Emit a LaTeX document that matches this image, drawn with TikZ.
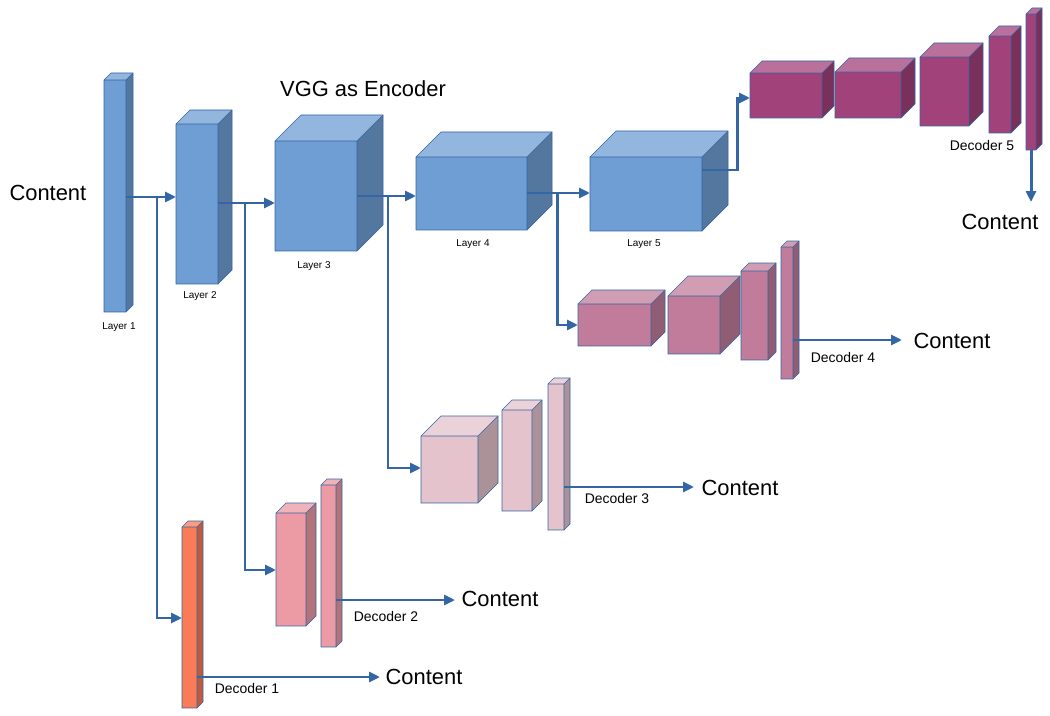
\documentclass[tikz,border=0pt]{standalone}
\usepackage{fontspec}
\setmainfont{Liberation Sans}
\usetikzlibrary{arrows.meta}
\definecolor{enc}{HTML}{6E9ED3}
\definecolor{dfive}{HTML}{A2427A}
\definecolor{dfour}{HTML}{C07C9A}
\definecolor{dthree}{HTML}{E4C3CC}
\definecolor{dtwo}{HTML}{EC9AA3}
\definecolor{done}{HTML}{F97B57}
\definecolor{arr}{HTML}{3465A4}
\newcommand{\mycube}[7]{%
 \coordinate (#1) at (#2,#3);
 \fill[#7!75!white] (#2,#3) -- ++(#6,-#6) -- ++(#4,0) -- ++(-#6,#6) -- cycle;
 \fill[#7!75!black] (#2+#4,#3) -- ++(#6,-#6) -- ++(0,#5) -- ++(-#6,#6) -- cycle;
 \fill[#7] (#2,#3) rectangle ++(#4,#5);
 \draw[edge] (#2,#3) -- ++(#6,-#6) -- ++(#4,0) -- ++(0,#5) -- ++(-#6,#6) -- ++(-#4,0) -- cycle;
 \draw[edge] (#2,#3) -- ++(#4,0) -- ++(#6,-#6) (#2+#4,#3) -- ++(0,#5);
}
\tikzset{edge/.style={draw=arr,line width=0.6pt},
 ar/.style={draw=arr,line width=3pt,-{Triangle[length=11pt,width=10pt]}},
 ln/.style={draw=arr,line width=3pt},
 big/.style={font=\fontsize{22}{24}\selectfont},
 lay/.style={font=\fontsize{10}{12}\selectfont},
 dec/.style={font=\fontsize{14}{16}\selectfont}}
\begin{document}
\begin{tikzpicture}[x=1bp,y=-1bp]
\useasboundingbox (0,0) rectangle (1050,716);
% encoder
\mycube{L1}{104}{80}{22}{232}{7}{enc}
\mycube{L2}{176}{124}{42}{160}{14}{enc}
\mycube{L3}{275}{141}{82}{110}{26}{enc}
\mycube{L4}{416}{157}{111}{73}{25}{enc}
\mycube{L5}{590}{157}{112}{74}{26}{enc}
% decoder 5
\mycube{A1}{750}{73}{72}{45}{12}{dfive}
\mycube{A2}{835}{72}{66}{46}{14}{dfive}
\mycube{A3}{920}{57}{49}{69}{14}{dfive}
\mycube{A4}{989}{36}{22}{97}{10}{dfive}
\mycube{A5}{1026}{14}{10}{136}{6}{dfive}
% decoder 4
\mycube{B1}{578}{304}{73}{42}{14}{dfour}
\mycube{B2}{668}{296}{52}{58}{20}{dfour}
\mycube{B3}{741}{271}{27}{89}{8}{dfour}
\mycube{B4}{781}{247}{12}{132}{6}{dfour}
% decoder 3
\mycube{C1}{421}{436}{57}{67}{20}{dthree}
\mycube{C2}{502}{410}{30}{101}{10}{dthree}
\mycube{C3}{548}{384}{16}{146}{6}{dthree}
% decoder 2
\mycube{D1}{276}{513}{30}{113}{10}{dtwo}
\mycube{D2}{321}{485}{15}{162}{6}{dtwo}
% decoder 1
\mycube{E1}{182}{527}{15}{181}{6}{done}
% texts
\node[big,anchor=west] (c0) at (6,193) {Content};
\node[big] (vgg) at (363,89) {VGG as Encoder};
\node[lay] (t1) at (119,327) {Layer 1};
\node[lay] (t2) at (200,296) {Layer 2};
\node[lay] (t3) at (314,266) {Layer 3};
\node[lay] (t4) at (473,244) {Layer 4};
\node[lay] (t5) at (644,244) {Layer 5};
\node[dec] (d5) at (982,146) {Decoder 5};
\node[dec] (d4) at (843,358) {Decoder 4};
\node[dec] (d3) at (617,499) {Decoder 3};
\node[dec] (d2) at (386,617) {Decoder 2};
\node[dec] (d1) at (247,689) {Decoder 1};
\node[big] (o5) at (1000,222) {Content};
\node[big] (o4) at (952,341) {Content};
\node[big] (o3) at (740,488) {Content};
\node[big] (o2) at (500,599) {Content};
\node[big] (o1) at (424,677) {Content};
% arrows
\draw[ar] (126,197) -- (176,197);
\draw[ar] (157,197) -- (157,618) -- (182,618);
\draw[ar] (218,203) -- (275,203);
\draw[ar] (245,203) -- (245,570) -- (276,570);
\draw[ar] (357,196) -- (416,196);
\draw[ar] (388,196) -- (388,468) -- (421,468);
\draw[ar] (527,193) -- (590,193);
\draw[ar] (557,193) -- (557,325) -- (578,325);
\draw[ar] (702,170) -- (737,170) -- (737,98) -- (750,98);
\draw[ar] (1031,150) -- (1031,202);
\draw[ar] (793,340) -- (902,340);
\draw[ar] (564,487) -- (694,487);
\draw[ar] (336,600) -- (455,600);
\draw[ar] (197,677) -- (380,677);
\end{tikzpicture}
\end{document}
